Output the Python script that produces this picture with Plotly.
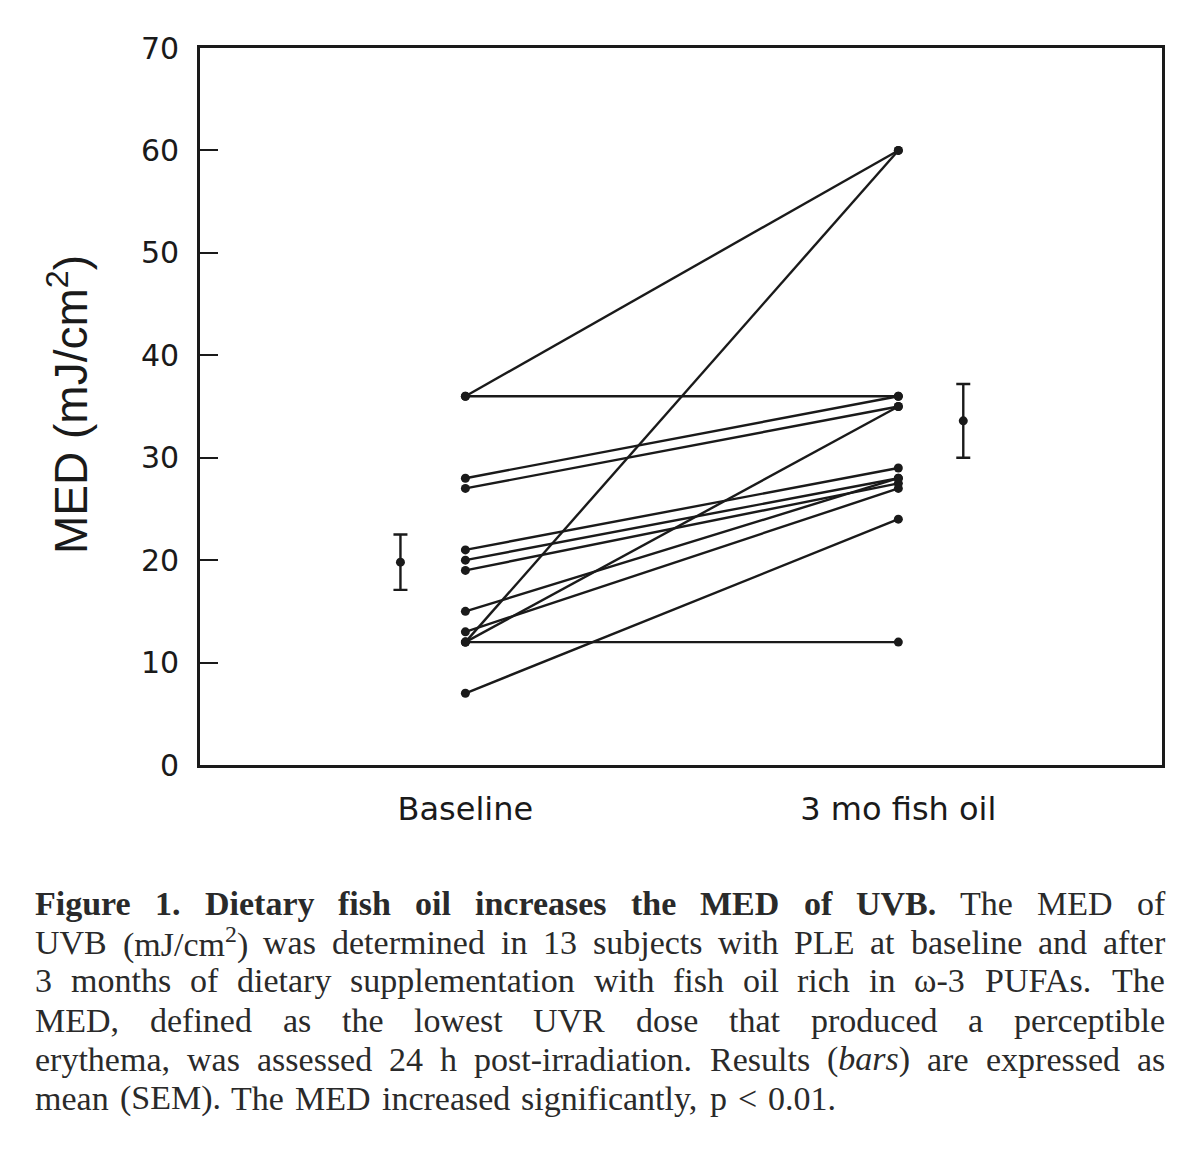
import re
import plotly.graph_objects as go

# ---- data ----
categories = ["Baseline", "3 mo fish oil"]
baseline = [36, 36, 28, 27, 21, 20, 19, 15, 13, 12, 12, 12, 7]
fish_oil = [60, 36, 36, 35, 29, 28, 27.5, 28, 27, 60, 35, 12, 24]
group_mean = [19.8, 33.6]
group_sem = [2.7, 3.6]
y_ticks = [0, 10, 20, 30, 40, 50, 60, 70]

caption_lines = [
    "<b>Figure 1. Dietary fish oil increases the MED of UVB.</b> The MED of",
    "UVB (mJ/cm<sup>2</sup>) was determined in 13 subjects with PLE at baseline and after",
    "3 months of dietary supplementation with fish oil rich in ω-3 PUFAs. The",
    "MED, defined as the lowest UVR dose that produced a perceptible",
    "erythema, was assessed 24 h post-irradiation. Results (<i>bars</i>) are expressed as",
    "mean (SEM). The MED increased significantly, p < 0.01.",
]

W, H = 1200, 1151
L, R, T, B = 200, 38, 48, 386
plot_w = W - L - R
plot_h = H - T - B


def px_x(px):
    return (px - L) / plot_w


def px_y(py):
    return (H - B - py) / plot_h


fig = go.Figure()

xpos = [1, 2]
for b, f in zip(baseline, fish_oil):
    fig.add_trace(go.Scatter(
        x=xpos, y=[b, f], mode="lines+markers",
        line=dict(color="#1a1a1a", width=2.4),
        marker=dict(color="#1a1a1a", size=9),
        showlegend=False, hoverinfo="skip"))

# mean (SEM) bars, drawn beside each group
fig.add_trace(go.Scatter(
    x=[0.85, 2.15], y=group_mean, mode="markers",
    marker=dict(color="#1a1a1a", size=9),
    error_y=dict(type="data", array=group_sem, visible=True,
                 color="#1a1a1a", thickness=2.4, width=7),
    showlegend=False, hoverinfo="skip"))

fig.update_xaxes(
    range=[0.387, 2.609], tickvals=xpos, ticktext=categories,
    showline=True, linecolor="#1a1a1a", linewidth=2.6, mirror=True,
    ticks="", showgrid=False, zeroline=False,
    tickfont=dict(family="DejaVu Sans", size=32, color="#1a1a1a"),
    ticklabelstandoff=14)

fig.update_yaxes(
    range=[0, 70], tickvals=y_ticks,
    showline=True, linecolor="#1a1a1a", linewidth=2.6, mirror=True,
    ticks="inside", ticklen=18, tickwidth=2.4, tickcolor="#1a1a1a",
    showgrid=False, zeroline=False,
    tickfont=dict(family="DejaVu Sans", size=30, color="#1a1a1a"),
    ticklabelstandoff=12)

# y-axis title
fig.add_annotation(
    text="MED (mJ/cm<sup>2</sup>)", xref="paper", yref="paper",
    x=px_x(68), y=px_y(405), textangle=-90, showarrow=False,
    font=dict(family="Liberation Sans, Arial", size=46, color="#1a1a1a"),
    xanchor="center", yanchor="middle")

# ---- caption, fully justified (Times metrics, Liberation Serif is compatible) ----
REG = {' ': 250, '(': 333, ')': 333, ',': 250, '-': 333, '.': 250, '/': 278,
       ':': 278, '<': 564, 'ω': 686,
       'A': 722, 'B': 667, 'C': 667, 'D': 722, 'E': 611, 'F': 556, 'G': 722,
       'H': 722, 'I': 333, 'J': 389, 'K': 722, 'L': 611, 'M': 889, 'N': 722,
       'O': 722, 'P': 556, 'Q': 722, 'R': 667, 'S': 556, 'T': 611, 'U': 722,
       'V': 722, 'W': 944, 'X': 722, 'Y': 722, 'Z': 611,
       'a': 444, 'b': 500, 'c': 444, 'd': 500, 'e': 444, 'f': 333, 'g': 500,
       'h': 500, 'i': 278, 'j': 278, 'k': 500, 'l': 278, 'm': 778, 'n': 500,
       'o': 500, 'p': 500, 'q': 500, 'r': 333, 's': 389, 't': 278, 'u': 500,
       'v': 500, 'w': 722, 'x': 500, 'y': 500, 'z': 444}
for d in "0123456789":
    REG[d] = 500
BOLD = dict(REG)
BOLD.update({'F': 611, 'D': 722, 'T': 667, 'M': 944, 'E': 667, 'U': 722,
             'V': 722, 'B': 667, 'a': 500, 'b': 556, 'd': 556, 'h': 556,
             'n': 556, 'r': 444, 't': 333, 'u': 556, '.': 250})
ITAL = dict(REG)
ITAL.update({'a': 500, 'b': 500, 'r': 389, 's': 389})

CAP_SIZE = 34
CAP_LEFT, CAP_RIGHT = 33, 1163
CAP_FONT = "Liberation Serif, Times New Roman"


def parse_words(line):
    state = {'b': False, 'i': False, 'sup': False}
    words = [[]]
    for tok in re.split(r'(<[^>]+>)', line):
        if tok.startswith('<'):
            name = tok.strip('</>')
            state[name] = not tok.startswith('</')
            continue
        for ch in tok:
            if ch == ' ':
                if words[-1]:
                    words.append([])
            else:
                words[-1].append((ch, state['b'], state['i'], state['sup']))
    if not words[-1]:
        words.pop()
    return words


def word_width(word):
    w = 0.0
    for ch, bo, it, sup in word:
        table = BOLD if bo else (ITAL if it else REG)
        scale = 0.7 if sup else 1.0
        w += table.get(ch, 500) / 1000.0 * CAP_SIZE * scale
    return w


def esc(ch):
    return {'<': '&lt;', '>': '&gt;', '&': '&amp;'}.get(ch, ch)


def word_html(word):
    out = []
    runs = []
    for ch, bo, it, sup in word:
        key = (bo, it, sup)
        if runs and runs[-1][0] == key:
            runs[-1][1].append(esc(ch))
        else:
            runs.append([key, [esc(ch)]])
    for (bo, it, sup), chars in runs:
        s = "".join(chars)
        if sup:
            s = "<sup>" + s + "</sup>"
        if it:
            s = "<i>" + s + "</i>"
        if bo:
            s = "<b>" + s + "</b>"
        out.append(s)
    return "".join(out)


line_y = [903, 942, 981, 1020, 1059, 1098]
for li, (txt, yy) in enumerate(zip(caption_lines, line_y)):
    words = parse_words(txt)
    widths = [word_width(w) for w in words]
    last = li == len(caption_lines) - 1
    if last or len(words) < 2:
        gap = 0.32 * CAP_SIZE
    else:
        gap = (CAP_RIGHT - CAP_LEFT - sum(widths)) / (len(words) - 1)
    xcur = CAP_LEFT
    for w, wd in zip(words, widths):
        fig.add_annotation(
            text=word_html(w), xref="paper", yref="paper",
            x=px_x(xcur), y=px_y(yy), showarrow=False,
            xanchor="left", yanchor="middle", align="left",
            font=dict(family=CAP_FONT, size=CAP_SIZE, color="#2a2a2a"))
        xcur += wd + gap

fig.update_layout(
    width=W, height=H,
    margin=dict(l=L, r=R, t=T, b=B),
    paper_bgcolor="white", plot_bgcolor="white",
)

fig.write_html("out.html")
